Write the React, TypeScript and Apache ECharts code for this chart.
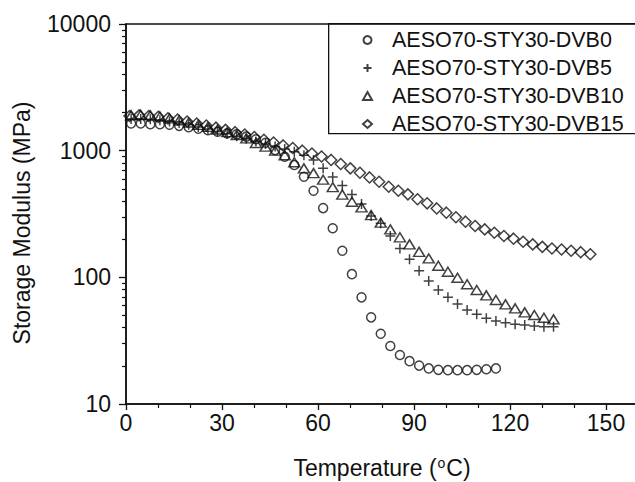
import React, { useEffect, useRef } from "react";
import * as echarts from "echarts";

// Temperatures (°C) of each measured point
const T_DVB0 = [1.6, 4.6, 7.6, 10.6, 13.6, 16.6, 19.6, 22.6, 25.6, 28.6, 31.6, 34.6, 37.6, 40.6, 43.6, 46.6, 49.6, 52.6, 55.6, 58.6, 61.6, 64.6, 67.6, 70.6, 73.6, 76.6, 79.6, 82.6, 85.6, 88.6, 91.6, 94.6, 97.6, 100.6, 103.6, 106.6, 109.6, 112.6, 115.6];
const T_DVB5 = [1.6, 4.6, 7.6, 10.6, 13.6, 16.6, 19.6, 22.6, 25.6, 28.6, 31.6, 34.6, 37.6, 40.6, 43.6, 46.6, 49.6, 52.6, 55.6, 58.6, 61.6, 64.6, 67.6, 70.6, 73.6, 76.6, 79.6, 82.6, 85.6, 88.6, 91.6, 94.6, 97.6, 100.6, 103.6, 106.6, 109.6, 112.6, 115.6, 118.6, 121.6, 124.6, 127.6, 130.6, 133.6];
const T_DVB10 = [1.6, 4.6, 7.6, 10.6, 13.6, 16.6, 19.6, 22.6, 25.6, 28.6, 31.6, 34.6, 37.6, 40.6, 43.6, 46.6, 49.6, 52.6, 55.6, 58.6, 61.6, 64.6, 67.6, 70.6, 73.6, 76.6, 79.6, 82.6, 85.6, 88.6, 91.6, 94.6, 97.6, 100.6, 103.6, 106.6, 109.6, 112.6, 115.6, 118.6, 121.6, 124.6, 127.6, 130.6, 133.6];
const T_DVB15 = [1.1, 4.1, 7.1, 10.1, 13.1, 16.1, 19.1, 22.1, 25.1, 28.1, 31.1, 34.1, 37.1, 40.1, 43.1, 46.1, 49.1, 52.1, 55.1, 58.1, 61.1, 64.1, 67.1, 70.1, 73.1, 76.1, 79.1, 82.1, 85.1, 88.1, 91.1, 94.1, 97.1, 100.1, 103.1, 106.1, 109.1, 112.1, 115.1, 118.1, 121.1, 124.1, 127.1, 130.1, 133.1, 136.1, 139.1, 142.1, 145.1];

// Storage modulus (MPa)
const E_DVB0 = [1640, 1640, 1620, 1620, 1600, 1570, 1530, 1490, 1450, 1410, 1370, 1345, 1290, 1230, 1155, 1010, 895, 770, 622, 483, 352, 244, 162, 106, 69.5, 48.3, 35.9, 28.7, 24.4, 21.8, 20.1, 19.1, 18.6, 18.5, 18.5, 18.5, 18.6, 18.8, 19.1];
const E_DVB5 = [1780, 1780, 1770, 1740, 1700, 1650, 1600, 1540, 1480, 1420, 1360, 1300, 1240, 1180, 1130, 1080, 1030, 980, 920, 843, 725, 620, 530, 450, 379, 305, 267, 212, 169, 138.7, 112.7, 93.5, 79.4, 69.5, 61.5, 55.2, 51.0, 47.5, 45.2, 43.8, 42.6, 42.0, 41.3, 40.7, 40.7];
const E_DVB10 = [1900, 1920, 1900, 1860, 1800, 1740, 1670, 1600, 1540, 1470, 1400, 1330, 1250, 1150, 1075, 1000, 920, 810, 725, 665, 590, 515, 450, 395, 357, 310, 270, 239, 207, 182, 159, 141, 123.5, 110.7, 99.3, 88.1, 79.4, 72.1, 66.2, 61.2, 56.9, 52.9, 50.4, 48.0, 46.6];
const E_DVB15 = [1880, 1900, 1880, 1850, 1800, 1760, 1700, 1640, 1580, 1520, 1460, 1400, 1340, 1280, 1220, 1160, 1100, 1050, 1000, 950, 900, 845, 785, 725, 670, 615, 568, 519, 483, 452, 413, 384, 350, 324, 298, 275, 254, 239, 225, 212, 202, 191, 182, 174, 169, 166, 162, 158, 152];

const SERIES_NAMES = ["AESO70-STY30-DVB0", "AESO70-STY30-DVB5", "AESO70-STY30-DVB10", "AESO70-STY30-DVB15"];
const Y_MAJOR_TICKS = [10, 100, 1000, 10000];
const Y_MINOR_TICKS = [20, 30, 40, 50, 60, 70, 80, 90, 200, 300, 400, 500, 600, 700, 800, 900, 2000, 3000, 4000, 5000, 6000, 7000, 8000, 9000];

const INK = "#111111";
const FONT = "'Liberation Sans', Arial, sans-serif";

const pairs = (xs: number[], ys: number[]) => xs.map((x, i) => [x, ys[i]]);

export default function App() {
  const ref = useRef<HTMLDivElement>(null);

  useEffect(() => {
    if (!ref.current) return;
    const chart = echarts.init(ref.current, undefined, { renderer: "svg" });
    const markStyle = { color: "transparent", borderColor: INK, borderWidth: 1.5 };
    chart.setOption({
      animation: false,
      backgroundColor: "#ffffff",
      textStyle: { fontFamily: FONT },
      grid: {
        left: 126,
        right: 0,
        top: 24,
        bottom: 78,
        show: true,
        borderColor: INK,
        borderWidth: 1.5,
        backgroundColor: "transparent",
        containLabel: false,
        outerBoundsMode: "none",
      },
      xAxis: {
        type: "value",
        min: 0,
        max: 160,
        interval: 30,
        name: "Temperature ({sup|o}C)",
        nameLocation: "middle",
        nameGap: 52,
        nameTextStyle: {
          fontSize: 23,
          color: INK,
          fontFamily: FONT,
          rich: { sup: { fontSize: 14, verticalAlign: "top", color: INK, fontFamily: FONT, padding: [0, 1, 0, 1] } },
        },
        axisLine: { lineStyle: { color: INK, width: 1.5 } },
        axisTick: { inside: false, length: 6, lineStyle: { color: INK, width: 1.3 } },
        minorTick: { show: true, splitNumber: 3, length: 4, lineStyle: { color: INK, width: 1.2 } },
        axisLabel: { fontSize: 23, color: INK, margin: 7, fontFamily: FONT, showMaxLabel: false },
        splitLine: { show: false },
      },
      yAxis: [
        {
          type: "log",
          logBase: 10,
          min: 10,
          max: 10000,
          interval: 1,
          name: "Storage Modulus (MPa)",
          nameLocation: "middle",
          nameGap: 93,
          nameTextStyle: { fontSize: 23, color: INK, fontFamily: FONT, padding: [0, 18, 0, 0] },
          axisLine: { lineStyle: { color: INK, width: 1.5 } },
          axisTick: { inside: false, length: 7, lineStyle: { color: INK, width: 1.3 } },
          axisLabel: {
            fontSize: 23,
            color: INK,
            margin: 15,
            fontFamily: FONT,
            customValues: Y_MAJOR_TICKS,
            formatter: (v: number) => String(Math.round(v)),
          },
          splitLine: { show: false },
        },
        {
          type: "log",
          logBase: 10,
          min: 10,
          max: 10000,
          position: "left",
          offset: 0,
          axisLine: { show: false },
          axisLabel: { show: false },
          axisTick: {
            show: true,
            inside: false,
            length: 4,
            customValues: Y_MINOR_TICKS,
            lineStyle: { color: INK, width: 1.2 },
          },
          splitLine: { show: false },
        },
      ],
      legend: {
        orient: "vertical",
        left: 357,
        top: 24,
        itemWidth: 9,
        itemHeight: 8,
        itemGap: 6,
        symbolKeepAspect: true,
        data: SERIES_NAMES,
        textStyle: { fontSize: 21.5, color: INK, fontFamily: FONT, lineHeight: 21, padding: [0, 0, 0, 15] },
      },
      graphic: [
        {
          type: "rect",
          left: 328,
          top: 23,
          shape: { width: 330, height: 110 },
          style: { fill: "transparent", stroke: INK, lineWidth: 1.3 },
          silent: true,
        },
      ],
      series: [
        {
          name: SERIES_NAMES[0],
          type: "scatter",
          symbol: "circle",
          symbolSize: 9,
          itemStyle: markStyle,
          data: pairs(T_DVB0, E_DVB0),
        },
        {
          name: SERIES_NAMES[1],
          type: "scatter",
          symbol: "path://M0 5L10 5M5 0L5 10",
          symbolSize: 10,
          itemStyle: markStyle,
          data: pairs(T_DVB5, E_DVB5),
        },
        {
          name: SERIES_NAMES[2],
          type: "scatter",
          symbol: "triangle",
          symbolSize: [11, 9],
          itemStyle: markStyle,
          data: pairs(T_DVB10, E_DVB10),
        },
        {
          name: SERIES_NAMES[3],
          type: "scatter",
          symbol: "diamond",
          symbolSize: 11,
          itemStyle: markStyle,
          data: pairs(T_DVB15, E_DVB15),
        },
      ],
    });
    return () => chart.dispose();
  }, []);

  return (
    <div style={{ position: "fixed", left: 0, top: 0, width: 635, height: 482, overflow: "hidden", background: "#fff" }}>
      <div ref={ref} style={{ width: 638, height: 482 }} />
    </div>
  );
}
